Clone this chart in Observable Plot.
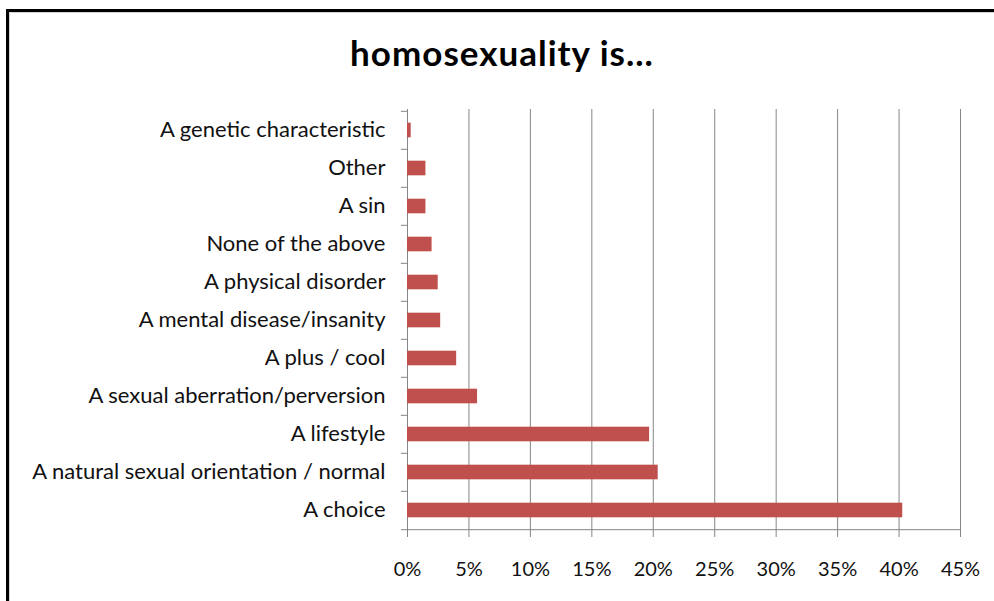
<!DOCTYPE html>
<html>
<head>
<meta charset="utf-8">
<script src="https://cdn.jsdelivr.net/npm/d3@7"></script>
<script src="https://cdn.jsdelivr.net/npm/@observablehq/plot@0.6"></script>
<style>
  html, body { margin: 0; padding: 0; background: #fff; }
  #wrap { position: relative; width: 994px; height: 601px; overflow: hidden; background: #fff; }
  #frame { position: absolute; left: 6px; top: 9px; width: 1100px; height: 700px; z-index: 5;
           border-left: 3px solid #000; border-top: 3px solid #000;
           box-shadow: inset 1px 1px 0 #d4d4d4; pointer-events: none; }
  #title { position: relative; height: 100px; box-sizing: border-box; padding-left: 10px; padding-top: 34px;
           text-align: center; font-family: Lato, sans-serif; font-weight: bold; font-size: 35px; letter-spacing: 1px;
           line-height: 36px; color: #000; }
  #chart { position: relative; }
  #chart svg { background: transparent !important; }
</style>
</head>
<body>
<div id="wrap">
  <div id="frame"></div>
  <div id="title">homosexuality is...</div>
  <div id="chart"></div>
</div>
<script>
const categories = [
  "A genetic characteristic",
  "Other",
  "A sin",
  "None of the above",
  "A physical disorder",
  "A mental disease/insanity",
  "A plus / cool",
  "A sexual aberration/perversion",
  "A lifestyle",
  "A natural sexual orientation / normal",
  "A choice"
];
const values = [0.3, 1.5, 1.5, 2.0, 2.5, 2.7, 4.0, 5.7, 19.7, 20.4, 40.3];
const xTicks = [0, 5, 10, 15, 20, 25, 30, 35, 40, 45];

const data = categories.map((c, i) => ({category: c, value: values[i]}));

const W = 994, H = 501, mT = 9, mB = 70, mL = 407, mR = 34;
const bw = (H - mT - mB) / categories.length;
const barH = 15;
const inset = (bw - barH) / 2;
const gridColor = "#868686";

const chart = Plot.plot({
  width: W,
  height: H,
  marginTop: mT,
  marginBottom: mB,
  marginLeft: mL,
  marginRight: mR,
  style: {fontFamily: "Lato, sans-serif", fontSize: "20px", color: "#111", background: "transparent"},
  x: {domain: [0, 45], axis: null, label: null},
  y: {domain: categories, padding: 0, axis: null, label: null},
  marks: [
    Plot.ruleX(xTicks, {stroke: gridColor, strokeWidth: 1}),
    Plot.barX(data, {y: "category", x: "value", fill: "#C0504D", insetTop: inset, insetBottom: inset}),
    // y-axis boundary ticks
    Plot.ruleY(categories, {x1: -0.5, x2: 0, dy: -bw / 2, stroke: gridColor}),
    Plot.ruleY([categories[categories.length - 1]], {x1: -0.5, x2: 45, dy: bw / 2, stroke: gridColor}),
    Plot.axisX({ticks: xTicks, tickFormat: d => d + "%", tickSize: 6, tickPadding: 24, stroke: gridColor, fill: "#111", fontSize: 20, label: null}),
    Plot.axisY({tickSize: 0, tickPadding: 22, fill: "#111", fontSize: 22, label: null, dy: -1})
  ]
});
document.getElementById("chart").appendChild(chart);
</script>
</body>
</html>
